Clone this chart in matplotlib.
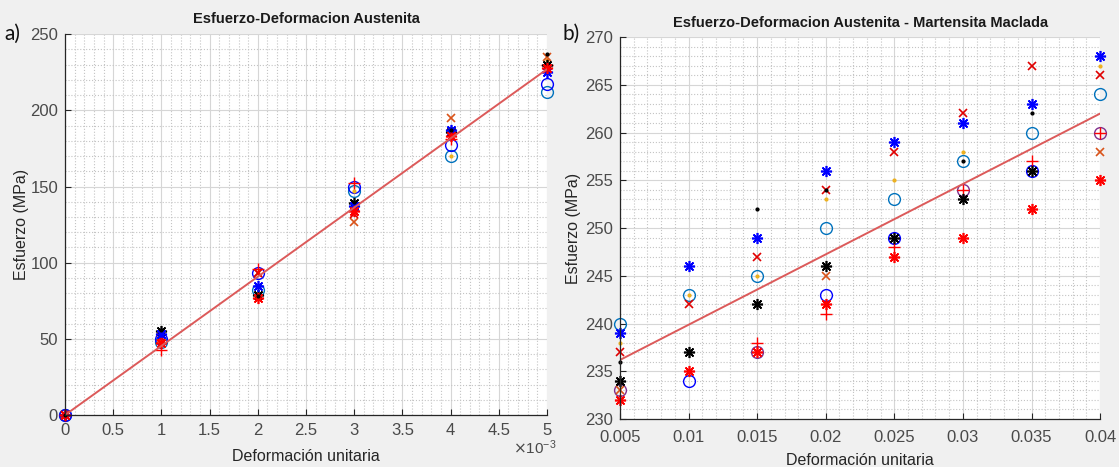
import numpy as np
import matplotlib
matplotlib.use("Agg")
import matplotlib.pyplot as plt
from matplotlib.ticker import MultipleLocator, FuncFormatter

plt.rcParams['font.family'] = ['Liberation Sans', 'DejaVu Sans']

# ---- data: panel a) Austenita ----
def_a = [0, 0.001, 0.002, 0.003, 0.004, 0.005]
a_blue_star   = [0, 53, 85, 137, 187, 225]
a_red_star    = [0, 47, 77, 134, 183, 228]
a_black_star  = [0, 55, 79, 139, 186, 230]
a_blue_circ   = [0, 50, 93, 150, 177, 217]
a_steel_circ  = [0, 48, 82, 147, 170, 212]
a_orange_x    = [0, 50, 93, 127, 195, 235]
a_red_plus    = [0, 43, 96, 152, 181, 230]
a_yellow_dot  = [0, 49, 93, 147, 170, 233]
a_black_dot   = [0, 56, 78, 140, 187, 237]
a_red_x       = [0, 51, 93, 132, 185, 227]
fit_a = (45400.0, 0.0)   # slope, intercept

# ---- data: panel b) Austenita - Martensita Maclada ----
def_b = [0.005, 0.01, 0.015, 0.02, 0.025, 0.03, 0.035, 0.04]
nan = np.nan
b_blue_star   = [239, 246, 249, 256, 259, 261, 263, 268]
b_red_x       = [237, 242, 247, 254, 258, 262, 267, 266]
b_steel_circ  = [240, 243, 245, 250, 253, 257, 260, 264]
b_yellow_dot  = [238, 243, 245, 253, 255, 258, nan, 267]
b_black_dot   = [236, nan, 252, 254, nan, 257, 262, nan]
b_black_star  = [234, 237, 242, 246, 249, 253, 256, nan]
b_blue_circ   = [nan, 234, nan, 243, 249, nan, 256, nan]
b_purple_circ = [233, nan, 237, nan, nan, 254, nan, 260]
b_red_star    = [232, 235, 237, 242, 247, 249, 252, 255]
b_red_plus    = [nan, nan, 238, 241, 248, 254, 257, 260]
b_orange_x    = [233, nan, nan, 245, nan, nan, nan, 258]
fit_b = (737.1, 232.5)

AST = (8, 2, 0)
styles = {
    'blue_star':   dict(marker=AST, color='#0000ff', ms=8, mew=1.2),
    'red_star':    dict(marker=AST, color='#ff0000', ms=8, mew=1.2),
    'black_star':  dict(marker=AST, color='#000000', ms=8, mew=1.2),
    'blue_circ':   dict(marker='o', color='#0000ff', ms=8.5, mfc='none', mew=1.0),
    'purple_circ': dict(marker='o', color='#7e2f8e', ms=8.5, mfc='none', mew=1.0),
    'steel_circ':  dict(marker='o', color='#0072bd', ms=8.5, mfc='none', mew=1.0),
    'orange_x':    dict(marker='x', color='#d95319', ms=6, mew=1.2),
    'red_x':       dict(marker='x', color='#e00000', ms=6, mew=1.2),
    'red_plus':    dict(marker='+', color='#ff0000', ms=9, mew=1.0),
    'yellow_dot':  dict(marker='.', color='#edb120', ms=4),
    'black_dot':   dict(marker='.', color='#000000', ms=4),
}

fig = plt.figure(figsize=(11.19, 4.67), dpi=100, facecolor='#f0f0f0')
ax1 = fig.add_axes([0.0581, 0.1113, 0.4307, 0.8155])
ax2 = fig.add_axes([0.5541, 0.1028, 0.4290, 0.8179])


def style_axes(ax):
    ax.set_facecolor('white')
    for s in ['top', 'right']:
        ax.spines[s].set_visible(False)
    for s in ['left', 'bottom']:
        ax.spines[s].set_color('#262626')
        ax.spines[s].set_linewidth(0.9)
    ax.tick_params(which='major', direction='in', length=4, width=0.8,
                   colors='#262626', labelcolor='#4a4a4a', labelsize=12)
    ax.tick_params(axis='y', which='major', pad=5)
    ax.tick_params(which='minor', length=0)
    ax.grid(which='major', color='#d6d6d6', linewidth=0.8)
    ax.grid(which='minor', color='#c4c4c4', linestyle=':', linewidth=0.8)
    ax.set_axisbelow(True)


# panel a
a_series = [('steel_circ', a_steel_circ), ('blue_circ', a_blue_circ),
            ('yellow_dot', a_yellow_dot), ('orange_x', a_orange_x),
            ('red_x', a_red_x), ('red_plus', a_red_plus),
            ('black_star', a_black_star), ('blue_star', a_blue_star),
            ('red_star', a_red_star), ('black_dot', a_black_dot)]
for name, vals in a_series:
    ax1.plot(def_a, vals, linestyle='none', clip_on=False, **styles[name])
xa = np.array([def_a[0], def_a[-1]])
ax1.plot(xa, fit_a[0] * xa + fit_a[1], color='#dc5a5a', linewidth=1.4)

style_axes(ax1)
ax1.tick_params(axis='x', which='major', pad=6)
ax1.set_xlim(0, 0.005)
ax1.set_ylim(0, 250)
ax1.xaxis.set_major_locator(MultipleLocator(0.0005))
ax1.xaxis.set_minor_locator(MultipleLocator(0.0001))
ax1.yaxis.set_major_locator(MultipleLocator(50))
ax1.yaxis.set_minor_locator(MultipleLocator(10))
ax1.xaxis.set_major_formatter(FuncFormatter(lambda v, p: ('%g' % round(v * 1000, 2))))
ax1.set_title('Esfuerzo-Deformacion Austenita', fontsize=10.5, fontweight='bold',
              color='#1a1a1a', pad=8)
ax1.set_xlabel('Deformación unitaria', fontsize=11.5, color='#262626', labelpad=8)
ax1.set_ylabel('Esfuerzo (MPa)', fontsize=11.5, color='#262626', labelpad=1)
ax1.text(0.975, -0.087, r'$\times\mathregular{10^{-3}}$', transform=ax1.transAxes,
         fontsize=11, color='#4a4a4a', ha='center', va='center')

# panel b
b_series = [('steel_circ', b_steel_circ), ('blue_circ', b_blue_circ),
            ('purple_circ', b_purple_circ), ('yellow_dot', b_yellow_dot),
            ('orange_x', b_orange_x), ('red_x', b_red_x),
            ('red_plus', b_red_plus), ('black_star', b_black_star),
            ('blue_star', b_blue_star), ('red_star', b_red_star),
            ('black_dot', b_black_dot)]
for name, vals in b_series:
    ax2.plot(def_b, vals, linestyle='none', clip_on=False, **styles[name])
xb = np.array([def_b[0], def_b[-1]])
ax2.plot(xb, fit_b[0] * xb + fit_b[1], color='#dc5a5a', linewidth=1.4)

style_axes(ax2)
ax2.tick_params(axis='x', which='major', pad=8)
ax2.set_xlim(0.005, 0.04)
ax2.set_ylim(230, 270)
ax2.xaxis.set_major_locator(MultipleLocator(0.005))
ax2.xaxis.set_minor_locator(MultipleLocator(0.001))
ax2.yaxis.set_major_locator(MultipleLocator(5))
ax2.yaxis.set_minor_locator(MultipleLocator(1))
ax2.xaxis.set_major_formatter(FuncFormatter(lambda v, p: '%g' % round(v, 4)))
ax2.set_title('Esfuerzo-Deformacion Austenita - Martensita Maclada', fontsize=10.5,
              fontweight='bold', color='#1a1a1a', pad=7)
ax2.set_xlabel('Deformación unitaria', fontsize=11.5, color='#262626', labelpad=6)
ax2.set_ylabel('Esfuerzo (MPa)', fontsize=11.5, color='#262626', labelpad=3)

# panel letters
fig.text(0.004, 0.915, 'a)', fontsize=15, family=['Lato', 'DejaVu Sans'], color='#111111')
fig.text(0.503, 0.915, 'b)', fontsize=15, family=['Lato', 'DejaVu Sans'], color='#111111')

fig.savefig('out.png', dpi=100, facecolor=fig.get_facecolor())
